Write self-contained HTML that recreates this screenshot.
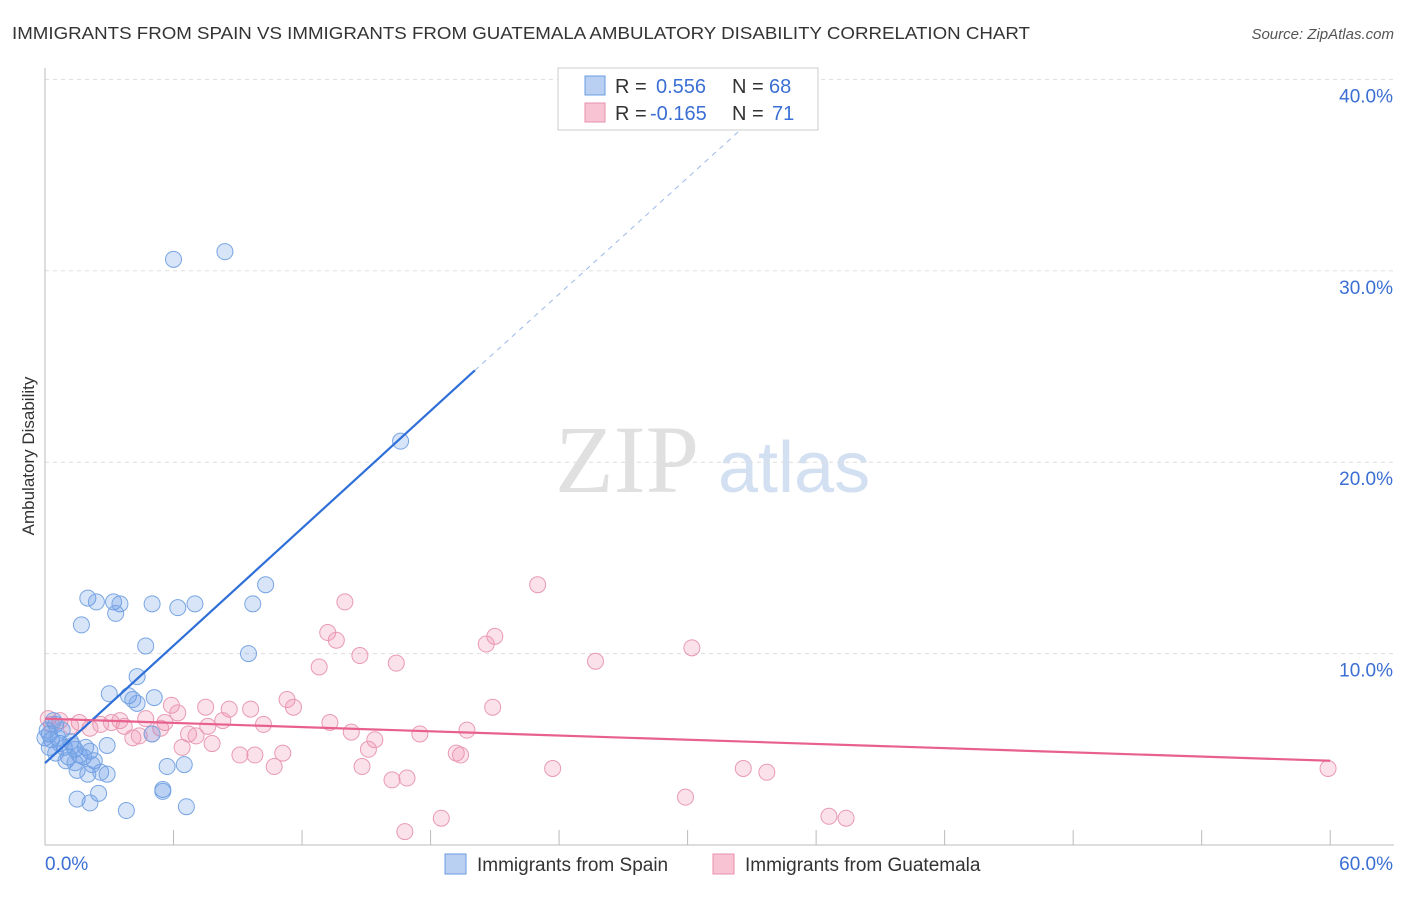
<!DOCTYPE html>
<html><head><meta charset="utf-8"><style>
body{margin:0;background:#fff;font-family:"Liberation Sans",sans-serif;}
</style></head><body>
<svg width="1406" height="892" xmlns="http://www.w3.org/2000/svg" font-family="Liberation Sans, sans-serif">
<text x="12" y="39" font-size="17.5" textLength="1018" lengthAdjust="spacingAndGlyphs" fill="#333">IMMIGRANTS FROM SPAIN VS IMMIGRANTS FROM GUATEMALA AMBULATORY DISABILITY CORRELATION CHART</text>
<text x="1394" y="39" font-size="15" fill="#555" font-style="italic" text-anchor="end">Source: ZipAtlas.com</text>
<g>
<text x="555" y="492" font-size="96" fill="#e0e0e0" font-family="Liberation Serif, serif">ZIP</text>
<text x="718" y="492" font-size="72" fill="#d3e0f2">atlas</text>
</g>
<g id="grid"></g>
<g id="axes"></g>
<text transform="translate(34,456) rotate(-90)" font-size="17" fill="#333" text-anchor="middle">Ambulatory Disability</text>
<g id="pts"></g>
<g id="lines"></g>
<g>
<rect x="558" y="68" width="260" height="62" fill="#fff" stroke="#ccc"/>
<rect x="585" y="76" width="20" height="19" fill="#b9d0f2" stroke="#6a9de0"/>
<rect x="585" y="103" width="20" height="19" fill="#f8c4d4" stroke="#e890aa"/>
<text x="615" y="93" font-size="20" fill="#333">R =</text>
<text x="656" y="93" font-size="20" fill="#3b6fd4">0.556</text>
<text x="732" y="93" font-size="20" fill="#333">N =</text>
<text x="769" y="93" font-size="20" fill="#3b6fd4">68</text>
<text x="615" y="120" font-size="20" fill="#333">R =</text>
<text x="650" y="120" font-size="20" fill="#3b6fd4">-0.165</text>
<text x="732" y="120" font-size="20" fill="#333">N =</text>
<text x="772" y="120" font-size="20" fill="#3b6fd4">71</text>
</g>
<g>
<rect x="445" y="854" width="21" height="20" fill="#b9d0f2" stroke="#6a9de0"/>
<text x="477" y="871" font-size="19" fill="#333">Immigrants from Spain</text>
<rect x="713" y="854" width="21" height="20" fill="#f8c4d4" stroke="#e890aa"/>
<text x="745" y="871" font-size="19" fill="#333">Immigrants from Guatemala</text>
</g>
</svg>
<script>
const yTicks=[10,20,30,40];
const yTickLabels=["10.0%","20.0%","30.0%","40.0%"];
const xTickLabels=["0.0%","60.0%"];
const spainX=[6.0,8.4,16.6,10.3,9.7,7.0,6.2,5.0,2.0,2.4,3.2,3.5,3.3,1.7,4.7,9.5,4.3,3.0,3.9,4.1,5.1,4.3,5.0,2.9,0.5,0.2,0.3,0.7,0.9,1.2,1.4,1.9,2.1,2.3,1.1,1.5,2.0,2.6,2.9,5.7,6.5,5.5,5.5,2.5,1.5,2.1,3.8,6.6,0.1,0.4,0.6,0.8,1.3,1.6,0.0,0.2,0.5,0.98,1.4,1.8,2.2];
const spainY=[30.6,31.0,21.1,13.6,12.6,12.6,12.4,12.6,12.9,12.7,12.7,12.6,12.1,11.5,10.4,10.0,8.8,7.9,7.8,7.6,7.7,7.4,5.8,5.2,6.3,5.8,5.5,5.3,5.1,5.4,5.0,5.1,4.9,4.4,4.6,3.9,3.7,3.8,3.7,4.1,4.2,2.9,2.8,2.7,2.4,2.2,1.8,2.0,6.0,6.5,5.6,6.0,5.2,4.7,5.6,5.1,4.8,4.4,4.3,4.6,4.2];
const guaX=[23.0,14.0,13.2,13.6,21.0,20.6,30.2,14.7,16.4,25.7,12.8,11.3,11.6,5.9,7.5,8.6,9.6,6.2,3.5,4.7,5.6,5.4,8.3,10.2,13.3,14.3,15.4,20.9,19.7,17.5,6.7,7.05,7.8,6.4,5.0,4.1,3.7,2.6,1.6,0.7,0.15,0.3,1.2,2.1,9.1,9.8,11.1,15.1,19.2,19.4,10.7,14.8,23.7,32.6,33.7,16.2,16.9,59.9,29.9,36.6,37.4,18.5,16.8,3.1,4.4,7.6];
const guaY=[13.6,12.7,11.1,10.7,10.9,10.5,10.3,9.9,9.5,9.6,9.3,7.6,7.2,7.3,7.2,7.1,7.1,6.9,6.5,6.6,6.4,6.1,6.5,6.3,6.4,5.9,5.5,7.2,6.0,5.8,5.8,5.7,5.3,5.1,5.8,5.6,6.2,6.3,6.4,6.5,6.6,6.3,6.2,6.1,4.7,4.7,4.8,5.0,4.8,4.7,4.1,4.1,4.0,4.0,3.8,3.4,3.5,4.0,2.5,1.5,1.4,1.4,0.7,6.4,5.7,6.2];
const spainLine=[[0,4.28],[20.07,24.8]];
const spainDash=[[20.07,24.8],[32.7,37.6]];
const guaLine=[[0,6.6],[60,4.4]];
const X=v=>45+v*21.42, Y=v=>845-v*19.14;
const NS="http://www.w3.org/2000/svg";
function mk(t,a,p){const e=document.createElementNS(NS,t);for(const k in a)e.setAttribute(k,a[k]);p.appendChild(e);return e;}
const grid=document.getElementById('grid'),axes=document.getElementById('axes');
yTicks.forEach((t,i)=>{
 const l=mk('line',{x1:45,x2:1394,y1:Y(t),y2:Y(t),stroke:'#ddd','stroke-dasharray':'4,4'},grid);
 
 
 const tx=mk('text',{x:1393,y:Y(t)+23,'font-size':19,fill:'#3b6fd4','text-anchor':'end'},axes);
 tx.textContent=yTickLabels[i];
 
 
});
mk('line',{x1:45,x2:45,y1:68,y2:845,stroke:'#bbb'},axes);
mk('line',{x1:45,x2:1394,y1:845,y2:845,stroke:'#bbb'},axes);
for(let i=0;i<=10;i++){const l=mk('line',{x1:X(i*6),x2:X(i*6),y1:830,y2:845,stroke:'#bbb'},axes);
 
 }
[[0,45,'start'],[1,1393,'end']].forEach(([i,x,a])=>{const t=mk('text',{x:x,y:870,'font-size':19,fill:'#3b6fd4','text-anchor':a},axes);t.textContent=xTickLabels[i];
 
 });
const pts=document.getElementById('pts');
guaX.forEach((x,i)=>{const c=mk('circle',{cx:X(x),cy:Y(guaY[i]),r:8,fill:'rgba(240,140,170,0.25)',stroke:'#e99ab3','stroke-width':1},pts);
 
 });
spainX.forEach((x,i)=>{const c=mk('circle',{cx:X(x),cy:Y(spainY[i]),r:8,fill:'rgba(100,150,230,0.25)',stroke:'#78a5e3','stroke-width':1},pts);
 
 });
const lines=document.getElementById('lines');
let l1=mk('line',{x1:X(spainLine[0][0]),y1:Y(spainLine[0][1]),x2:X(spainLine[1][0]),y2:Y(spainLine[1][1]),stroke:'#2f6fd8','stroke-width':2.2},lines);


let l2=mk('line',{x1:X(spainDash[0][0]),y1:Y(spainDash[0][1]),x2:X(spainDash[1][0]),y2:Y(spainDash[1][1]),stroke:'#9bb8e8','stroke-width':1,'stroke-dasharray':'5,5'},lines);


let l3=mk('line',{x1:X(guaLine[0][0]),y1:Y(guaLine[0][1]),x2:X(guaLine[1][0]),y2:Y(guaLine[1][1]),stroke:'#e8608e','stroke-width':2.2},lines);


</script>
</body></html>
